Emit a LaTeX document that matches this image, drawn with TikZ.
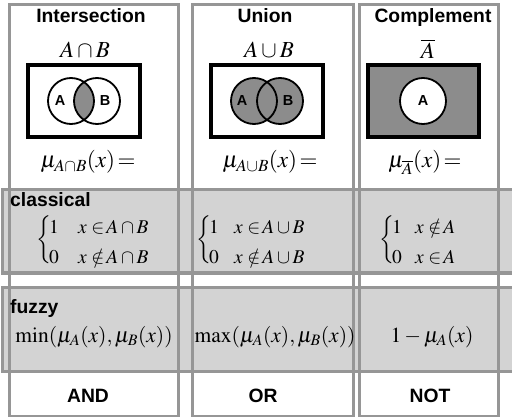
\documentclass[tikz,border=0pt]{standalone}
\usepackage{mathptmx}
\usepackage[no-math]{fontspec}
\setsansfont{Liberation Sans}
\definecolor{boxgray}{RGB}{150,150,150}
\definecolor{bandgray}{RGB}{211,211,211}
\definecolor{setgray}{RGB}{140,140,140}
\tikzset{
  colbox/.style={draw=boxgray, line width=3pt},
  band/.style={fill=bandgray, draw=boxgray, line width=3pt},
  head/.style={font=\sffamily\bfseries\fontsize{19.3}{21}\selectfont, anchor=base, inner sep=0pt},
  mathlbl/.style={font=\fontsize{21.5}{24}\selectfont, anchor=base, inner sep=0pt},
  setname/.style={font=\fontsize{23}{26}\selectfont, anchor=base, inner sep=0pt},
  mulbl/.style={font=\fontsize{23}{26}\selectfont, anchor=base, inner sep=0pt},
  casetxt/.style={font=\fontsize{19.5}{22}\selectfont, anchor=base west, inner sep=0pt},
  bracetxt/.style={font=\fontsize{20}{24}\selectfont, anchor=west, inner sep=0pt},
  setlbl/.style={font=\sffamily\bfseries\fontsize{14.5}{16}\selectfont, inner sep=0pt},
  universe/.style={draw=black, line width=3.5pt},
  venn/.style={draw=black, line width=1.8pt}
}
\begin{document}
\begin{tikzpicture}[x=1pt,y=-1pt]
\useasboundingbox (0,0) rectangle (512,417);
\clip (0,0) rectangle (512,417);
% bands
\draw[band] (2,190) rectangle (520,273);
\draw[band] (2,287) rectangle (520,371);
% column boxes
\draw[colbox] (9,5) rectangle (178,416);
\draw[colbox] (192,5) rectangle (353,416);
\draw[colbox] (359,5) rectangle (498,416);
% headers
\node[head] (h1) at (91,23) {Intersection};
\node[head] (h2) at (265,23) {Union};
\node[head] (h3) at (433,23) {Complement};
\node[setname] (s1) at (85,58) {$A\cap B$};
\node[setname] (s2) at (269,58) {$A\cup B$};
\node[setname] (s3) at (428,59) {$\overline{A}$};
% intersection venn
\draw[universe] (28,65) rectangle (140,137);
\begin{scope}
  \clip (71,101) circle (23);
  \fill[setgray] (97,101) circle (23);
\end{scope}
\draw[venn] (71,101) circle (23);
\draw[venn] (97,101) circle (23);
\node[setlbl] (a1) at (60,101) {A};
\node[setlbl] (b1) at (105,101) {B};
% union venn
\draw[universe] (211,65) rectangle (323,137);
\fill[setgray] (254,101) circle (23);
\fill[setgray] (280,101) circle (23);
\draw[venn] (254,101) circle (23);
\draw[venn] (280,101) circle (23);
\node[setlbl] (a2) at (242,101) {A};
\node[setlbl] (b2) at (288,101) {B};
% complement venn
\draw[universe, fill=setgray] (368,65) rectangle (479,137);
\draw[venn, fill=white] (423,101) circle (23);
\node[setlbl] (a3) at (423,101) {A};
% membership
\node[mulbl] (m1) at (88,168) {$\mu_{A\cap B}(x)\!=$};
\node[mulbl] (m2) at (270,168) {$\mu_{A\cup B}(x)\!=$};
\node[mulbl] (m3) at (425,168) {$\mu_{\overline{A}}(x)\!=$};
% classical
\node[head, anchor=base west] (cl) at (10,207) {classical};
\node[bracetxt] (k1) at (36,240) {$\bigg\{$};
\node[casetxt] (c1a) at (49,234) {$1$};
\node[casetxt] (c1b) at (78,234) {$x\in\! A\cap B$};
\node[casetxt] (c1c) at (49,263) {$0$};
\node[casetxt] (c1d) at (78,263) {$x\notin\! A\cap B$};
\node[bracetxt] (k2) at (196,240) {$\bigg\{$};
\node[casetxt] (c2a) at (209,234) {$1$};
\node[casetxt] (c2b) at (234,234) {$x\in\! A\cup B$};
\node[casetxt] (c2c) at (209,263) {$0$};
\node[casetxt] (c2d) at (234,263) {$x\notin\! A\cup B$};
\node[bracetxt] (k3) at (379,240) {$\bigg\{$};
\node[casetxt] (c3a) at (392,234) {$1$};
\node[casetxt] (c3b) at (415,234) {$x\notin\! A$};
\node[casetxt] (c3c) at (392,263) {$0$};
\node[casetxt] (c3d) at (415,263) {$x\in\! A$};
% fuzzy
\node[head, anchor=base west] (fz) at (10,313) {fuzzy};
\node[mathlbl] (f1) at (94,342) {$\min(\mu_A(x),\mu_B(x))$};
\node[mathlbl] (f2) at (275,342) {$\max(\mu_A(x),\mu_B(x))$};
\node[mathlbl] (f3) at (432,342) {$1-\mu_A(x)$};
% logic
\node[head] (g1) at (88,402) {AND};
\node[head] (g2) at (263,402) {OR};
\node[head] (g3) at (430,402) {NOT};
\end{tikzpicture}
\end{document}
